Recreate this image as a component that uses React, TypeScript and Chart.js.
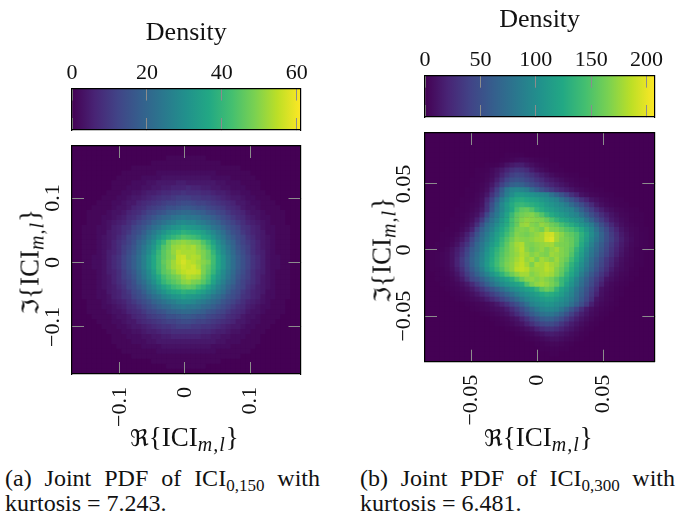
import React, { useEffect, useRef } from "react";
import { Chart, registerables } from "chart.js";

Chart.register(...registerables);

const GRID = 46;
const SERIF = "'Liberation Serif','DejaVu Serif',serif";

// Each row: first number = first non-zero column, then the densities.
const densityA: number[][] = [
  [],
  [],
  [19, 1, 1, 1, 1, 1, 1, 1, 1],
  [16, 1, 1, 1, 1, 1, 1, 1, 1, 1, 1, 1, 1, 1, 1],
  [12, 1, 1, 1, 1, 1, 1, 1, 1, 1, 1, 1, 1, 1, 1, 1, 1, 1, 1, 1, 1, 1, 1],
  [10, 1, 1, 1, 1, 1, 1, 1, 2, 2, 2, 2, 2, 2, 2, 2, 2, 2, 2, 2, 1, 1, 1, 1, 1, 1, 1],
  [9, 1, 1, 1, 1, 1, 2, 2, 2, 2, 3, 3, 3, 3, 3, 3, 3, 3, 3, 3, 2, 2, 2, 2, 1, 1, 1, 1, 1],
  [8, 1, 1, 1, 1, 2, 2, 2, 3, 3, 4, 4, 4, 4, 5, 5, 4, 4, 4, 4, 4, 4, 3, 3, 2, 2, 2, 1, 1, 1, 1],
  [8, 1, 1, 1, 2, 2, 2, 3, 3, 4, 4, 5, 5, 6, 6, 6, 7, 6, 6, 5, 5, 4, 4, 3, 3, 2, 2, 2, 1, 1, 1],
  [7, 1, 1, 1, 2, 2, 3, 3, 4, 5, 5, 6, 7, 7, 8, 8, 9, 8, 8, 8, 7, 7, 6, 5, 5, 4, 3, 3, 2, 2, 1, 1, 1],
  [6, 1, 1, 1, 2, 2, 3, 4, 4, 5, 6, 7, 8, 9, 9, 10, 11, 11, 11, 10, 10, 9, 9, 8, 7, 6, 5, 4, 4, 3, 2, 2, 1, 1, 1],
  [5, 1, 1, 1, 2, 2, 3, 4, 4, 6, 7, 8, 9, 10, 11, 12, 12, 13, 14, 14, 13, 12, 12, 11, 10, 9, 8, 7, 6, 4, 4, 3, 2, 2, 1, 1, 1],
  [4, 1, 1, 1, 1, 2, 3, 3, 4, 6, 7, 8, 10, 11, 12, 13, 15, 15, 16, 17, 17, 16, 15, 15, 13, 12, 11, 10, 8, 7, 6, 4, 3, 3, 2, 1, 1, 1, 1],
  [3, 1, 1, 1, 1, 2, 3, 3, 4, 6, 7, 8, 10, 12, 13, 15, 16, 18, 19, 20, 21, 21, 20, 19, 18, 16, 15, 13, 12, 10, 8, 7, 6, 4, 3, 3, 2, 1, 1, 1, 1],
  [3, 1, 1, 1, 2, 2, 3, 4, 5, 7, 8, 10, 12, 14, 16, 18, 20, 21, 23, 24, 25, 24, 24, 23, 21, 20, 18, 16, 14, 12, 10, 8, 7, 5, 4, 3, 2, 2, 1, 1, 1],
  [3, 1, 1, 1, 2, 3, 4, 5, 6, 8, 10, 12, 14, 16, 19, 21, 23, 25, 26, 28, 29, 28, 28, 26, 25, 23, 21, 19, 16, 14, 12, 10, 8, 6, 5, 4, 3, 2, 1, 1, 1],
  [2, 1, 1, 1, 2, 2, 3, 5, 6, 8, 9, 12, 14, 16, 19, 22, 24, 27, 29, 31, 32, 34, 33, 32, 31, 29, 27, 24, 22, 19, 16, 14, 12, 9, 8, 6, 5, 3, 2, 2, 1, 1, 1],
  [2, 1, 1, 1, 2, 2, 4, 5, 6, 8, 10, 13, 15, 18, 22, 25, 28, 31, 34, 36, 37, 39, 38, 37, 36, 34, 31, 28, 25, 22, 18, 15, 13, 10, 8, 6, 5, 4, 2, 2, 1, 1, 1],
  [2, 1, 1, 1, 2, 3, 4, 5, 7, 9, 12, 14, 17, 20, 24, 27, 31, 35, 38, 40, 42, 44, 43, 42, 40, 37, 35, 31, 27, 24, 20, 17, 14, 12, 9, 7, 5, 4, 3, 2, 1, 1, 1],
  [2, 1, 1, 1, 2, 3, 4, 6, 8, 10, 12, 15, 19, 22, 26, 30, 36, 40, 46, 49, 50, 51, 50, 49, 48, 44, 40, 35, 30, 26, 22, 19, 15, 12, 10, 8, 6, 4, 3, 2, 1, 1, 1],
  [2, 1, 1, 1, 2, 3, 4, 6, 8, 11, 13, 16, 20, 24, 28, 32, 38, 44, 47, 51, 52, 53, 52, 53, 50, 47, 43, 38, 32, 28, 24, 20, 16, 13, 11, 8, 6, 4, 3, 2, 1, 1, 1],
  [2, 1, 1, 1, 2, 3, 5, 6, 8, 11, 14, 17, 21, 25, 29, 34, 40, 45, 48, 51, 54, 53, 53, 53, 51, 49, 46, 40, 34, 29, 25, 21, 17, 14, 11, 8, 6, 5, 3, 2, 1, 1, 1],
  [2, 1, 1, 2, 2, 3, 5, 7, 9, 12, 15, 18, 22, 26, 31, 36, 41, 45, 48, 50, 55, 56, 53, 54, 53, 49, 46, 42, 36, 31, 26, 22, 18, 15, 12, 9, 7, 5, 3, 2, 2, 1, 1],
  [2, 1, 1, 2, 2, 3, 5, 7, 9, 12, 15, 18, 22, 26, 31, 36, 41, 46, 49, 52, 55, 57, 55, 54, 52, 50, 48, 42, 36, 31, 26, 22, 18, 15, 12, 9, 7, 5, 3, 2, 2, 1, 1],
  [2, 1, 1, 2, 2, 3, 5, 7, 9, 12, 15, 18, 22, 26, 31, 36, 41, 45, 49, 52, 54, 56, 55, 56, 53, 49, 46, 41, 36, 31, 26, 22, 18, 15, 12, 9, 7, 5, 3, 2, 2, 1, 1],
  [2, 1, 1, 1, 2, 3, 5, 6, 8, 11, 14, 17, 21, 25, 29, 34, 40, 45, 47, 50, 53, 55, 56, 56, 55, 49, 45, 40, 34, 29, 25, 21, 17, 14, 11, 8, 6, 5, 3, 2, 1, 1, 1],
  [2, 1, 1, 1, 2, 3, 4, 6, 8, 11, 13, 16, 20, 24, 28, 32, 37, 42, 45, 47, 49, 52, 54, 53, 52, 47, 43, 37, 32, 28, 24, 20, 16, 13, 11, 8, 6, 4, 3, 2, 1, 1, 1],
  [2, 1, 1, 1, 2, 3, 4, 6, 8, 10, 12, 15, 19, 22, 26, 30, 35, 40, 43, 45, 47, 50, 51, 49, 48, 45, 41, 35, 30, 26, 22, 19, 15, 12, 10, 8, 6, 4, 3, 2, 1, 1, 1],
  [2, 1, 1, 1, 2, 3, 4, 5, 7, 9, 12, 14, 17, 20, 24, 27, 31, 35, 38, 41, 43, 45, 46, 45, 42, 39, 35, 31, 27, 24, 20, 17, 14, 12, 9, 7, 5, 4, 3, 2, 1, 1, 1],
  [2, 1, 1, 1, 2, 2, 4, 5, 6, 8, 10, 13, 15, 18, 22, 25, 28, 31, 34, 36, 37, 39, 38, 38, 36, 34, 31, 28, 25, 22, 18, 15, 13, 10, 8, 6, 5, 4, 2, 2, 1, 1, 1],
  [2, 1, 1, 1, 2, 2, 3, 5, 6, 8, 9, 12, 14, 16, 19, 22, 24, 27, 29, 31, 32, 34, 33, 32, 31, 29, 27, 24, 22, 19, 16, 14, 12, 9, 8, 6, 5, 3, 2, 2, 1, 1, 1],
  [3, 1, 1, 1, 2, 3, 4, 5, 6, 8, 10, 12, 14, 16, 19, 21, 23, 25, 26, 28, 29, 29, 28, 26, 25, 23, 21, 19, 16, 14, 12, 10, 8, 6, 5, 4, 3, 2, 1, 1, 1],
  [3, 1, 1, 1, 2, 2, 3, 4, 5, 7, 8, 10, 12, 14, 16, 18, 20, 21, 23, 24, 25, 24, 24, 23, 21, 20, 18, 16, 14, 12, 10, 8, 7, 5, 4, 3, 2, 2, 1, 1, 1],
  [3, 1, 1, 1, 1, 2, 3, 3, 4, 6, 7, 8, 10, 12, 13, 15, 16, 18, 19, 20, 21, 21, 20, 19, 18, 16, 15, 13, 12, 10, 8, 7, 6, 4, 3, 3, 2, 1, 1, 1, 1],
  [4, 1, 1, 1, 1, 2, 3, 3, 4, 6, 7, 8, 10, 11, 12, 13, 15, 15, 16, 17, 17, 16, 15, 15, 13, 12, 11, 10, 8, 7, 6, 4, 3, 3, 2, 1, 1, 1, 1],
  [5, 1, 1, 1, 2, 2, 3, 4, 4, 6, 7, 8, 9, 10, 11, 12, 12, 13, 14, 14, 13, 12, 12, 11, 10, 9, 8, 7, 6, 4, 4, 3, 2, 2, 1, 1, 1],
  [6, 1, 1, 1, 2, 2, 3, 4, 4, 5, 6, 7, 8, 9, 9, 10, 11, 11, 11, 10, 10, 9, 9, 8, 7, 6, 5, 4, 4, 3, 2, 2, 1, 1, 1],
  [7, 1, 1, 1, 2, 2, 3, 3, 4, 5, 5, 6, 7, 7, 8, 8, 8, 8, 8, 8, 7, 7, 6, 5, 5, 4, 3, 3, 2, 2, 1, 1, 1],
  [8, 1, 1, 1, 2, 2, 2, 3, 3, 4, 4, 5, 5, 6, 6, 6, 6, 6, 6, 5, 5, 4, 4, 3, 3, 2, 2, 2, 1, 1, 1],
  [8, 1, 1, 1, 1, 2, 2, 2, 3, 3, 4, 4, 4, 4, 4, 4, 4, 4, 4, 4, 4, 4, 3, 3, 2, 2, 2, 1, 1, 1, 1],
  [9, 1, 1, 1, 1, 1, 2, 2, 2, 2, 3, 3, 3, 3, 3, 3, 3, 3, 3, 3, 2, 2, 2, 2, 1, 1, 1, 1, 1],
  [10, 1, 1, 1, 1, 1, 1, 1, 2, 2, 2, 2, 2, 2, 2, 2, 2, 2, 2, 2, 1, 1, 1, 1, 1, 1, 1],
  [12, 1, 1, 1, 1, 1, 1, 1, 1, 1, 1, 1, 1, 1, 1, 1, 1, 1, 1, 1, 1, 1, 1],
  [16, 1, 1, 1, 1, 1, 1, 1, 1, 1, 1, 1, 1, 1, 1],
  [19, 1, 1, 1, 1, 1, 1, 1, 1],
];

const densityB: number[][] = [
  [],
  [],
  [],
  [],
  [16, 1, 1, 1, 1],
  [15, 1, 2, 3, 5, 6, 5, 3, 2, 1, 1],
  [12, 1, 1, 2, 5, 10, 14, 17, 17, 12, 8, 5, 3, 2, 1, 1],
  [10, 1, 1, 2, 5, 9, 14, 21, 28, 32, 30, 25, 16, 10, 7, 4, 2, 1, 1],
  [10, 1, 2, 3, 6, 11, 20, 30, 38, 42, 40, 35, 29, 22, 16, 11, 7, 4, 3, 2, 1, 1],
  [9, 1, 1, 2, 4, 8, 17, 29, 41, 50, 53, 50, 44, 38, 31, 25, 18, 14, 10, 7, 4, 3, 2, 1, 1],
  [9, 1, 2, 3, 6, 13, 25, 40, 53, 63, 67, 64, 56, 48, 41, 34, 27, 21, 16, 12, 8, 5, 3, 2, 1, 1],
  [8, 1, 1, 2, 4, 8, 20, 38, 60, 82, 93, 96, 93, 88, 74, 62, 52, 43, 35, 27, 21, 16, 11, 7, 5, 3, 2, 1, 1],
  [8, 1, 1, 3, 6, 13, 30, 45, 68, 88, 100, 112, 112, 108, 104, 100, 96, 92, 78, 65, 53, 41, 29, 20, 10, 7, 4, 3, 2, 1, 1],
  [7, 1, 1, 2, 4, 8, 22, 40, 62, 85, 102, 118, 126, 128, 124, 120, 116, 110, 104, 98, 92, 78, 66, 54, 42, 30, 21, 12, 8, 5, 3, 2, 1, 1],
  [7, 1, 2, 3, 5, 10, 28, 50, 72, 95, 112, 126, 135, 138, 134, 130, 126, 120, 112, 106, 100, 94, 85, 72, 60, 48, 36, 25, 14, 8, 5, 3, 2, 1, 1],
  [6, 1, 1, 2, 4, 7, 14, 30, 55, 78, 95, 112, 125, 145, 155, 158, 150, 135, 128, 120, 114, 108, 102, 97, 92, 78, 64, 50, 38, 26, 17, 10, 7, 4, 3, 2, 1, 1],
  [6, 1, 2, 3, 6, 10, 22, 44, 68, 84, 102, 120, 138, 155, 162, 166, 168, 160, 150, 135, 126, 118, 112, 105, 98, 92, 78, 64, 50, 38, 27, 18, 11, 7, 4, 3, 2, 1, 1],
  [5, 1, 1, 2, 4, 8, 18, 35, 58, 78, 92, 110, 125, 145, 158, 168, 173, 171, 168, 166, 158, 147, 135, 126, 120, 112, 105, 97, 80, 65, 50, 37, 25, 15, 10, 6, 4, 2, 1, 1],
  [5, 1, 2, 3, 6, 13, 28, 50, 72, 85, 100, 115, 128, 145, 158, 173, 176, 168, 165, 173, 168, 161, 155, 145, 135, 128, 118, 108, 98, 85, 66, 50, 36, 24, 14, 8, 5, 3, 2, 1],
  [4, 1, 1, 2, 5, 10, 20, 42, 62, 78, 92, 108, 122, 135, 150, 165, 168, 166, 173, 168, 163, 178, 168, 166, 158, 150, 145, 135, 125, 110, 96, 78, 60, 46, 32, 21, 12, 7, 4, 3, 1, 1],
  [3, 1, 1, 2, 4, 9, 18, 33, 52, 70, 85, 100, 115, 128, 142, 155, 168, 166, 163, 168, 173, 178, 190, 192, 178, 170, 160, 155, 147, 132, 118, 100, 84, 66, 50, 36, 25, 15, 9, 5, 3, 2, 1],
  [3, 1, 2, 3, 7, 13, 24, 42, 60, 75, 90, 105, 120, 135, 150, 162, 172, 170, 168, 171, 176, 178, 192, 196, 178, 168, 163, 158, 147, 130, 114, 96, 80, 65, 50, 38, 27, 17, 10, 6, 3, 2, 1],
  [2, 1, 1, 2, 5, 10, 20, 32, 50, 68, 82, 97, 112, 125, 140, 155, 168, 178, 182, 168, 166, 170, 173, 176, 178, 168, 166, 164, 158, 145, 126, 108, 90, 74, 60, 46, 34, 24, 15, 9, 5, 3, 2, 1],
  [1, 1, 1, 2, 4, 9, 16, 26, 40, 58, 70, 85, 103, 120, 133, 147, 158, 168, 176, 184, 170, 163, 168, 173, 166, 173, 178, 168, 163, 154, 135, 120, 100, 84, 70, 56, 43, 31, 21, 13, 7, 4, 2, 1, 1],
  [1, 1, 2, 3, 5, 10, 18, 30, 44, 62, 75, 90, 107, 122, 137, 150, 160, 168, 174, 182, 176, 168, 173, 168, 166, 176, 173, 168, 163, 150, 130, 114, 96, 80, 66, 52, 40, 29, 19, 11, 6, 4, 2, 1],
  [1, 1, 2, 3, 5, 10, 20, 34, 48, 65, 78, 93, 110, 126, 140, 153, 163, 170, 178, 185, 173, 178, 166, 178, 173, 168, 176, 166, 158, 142, 126, 108, 90, 74, 60, 46, 33, 23, 14, 8, 5, 3, 2, 1],
  [1, 1, 2, 3, 5, 10, 20, 33, 47, 64, 78, 94, 112, 128, 142, 155, 166, 172, 182, 187, 178, 166, 180, 178, 184, 178, 173, 163, 150, 133, 118, 102, 86, 70, 56, 43, 31, 21, 12, 7, 4, 3, 1, 1],
  [1, 1, 1, 2, 4, 8, 16, 28, 42, 58, 72, 88, 106, 122, 136, 150, 163, 172, 185, 188, 184, 173, 176, 178, 185, 180, 168, 158, 145, 128, 112, 96, 80, 65, 51, 38, 27, 16, 9, 6, 4, 2, 1],
  [2, 1, 2, 3, 6, 12, 22, 36, 50, 64, 78, 92, 106, 120, 133, 148, 160, 170, 178, 178, 168, 173, 178, 180, 176, 166, 154, 135, 122, 106, 88, 72, 57, 44, 32, 21, 11, 7, 4, 3, 1, 1],
  [2, 1, 1, 2, 4, 8, 15, 27, 42, 50, 62, 75, 88, 100, 110, 120, 130, 146, 160, 170, 173, 168, 173, 168, 163, 152, 138, 128, 112, 94, 78, 63, 49, 36, 25, 12, 8, 5, 3, 2, 1],
  [3, 1, 2, 3, 5, 8, 14, 24, 36, 48, 62, 75, 88, 98, 106, 113, 120, 128, 150, 165, 172, 176, 172, 165, 156, 138, 120, 105, 90, 74, 59, 45, 32, 19, 8, 5, 3, 2, 1],
  [4, 1, 2, 3, 5, 8, 14, 22, 32, 42, 53, 63, 74, 85, 95, 103, 110, 118, 124, 136, 152, 160, 154, 135, 120, 110, 96, 80, 66, 52, 38, 25, 10, 6, 4, 2, 1],
  [5, 1, 2, 3, 5, 8, 13, 20, 28, 37, 46, 56, 66, 76, 88, 97, 104, 110, 116, 125, 130, 128, 122, 113, 102, 92, 76, 62, 48, 34, 20, 9, 5, 3, 2, 1],
  [6, 1, 2, 3, 5, 7, 10, 16, 23, 31, 40, 50, 60, 70, 82, 93, 100, 106, 112, 116, 116, 110, 103, 95, 85, 72, 57, 43, 29, 11, 7, 4, 3, 1],
  [8, 1, 2, 3, 4, 6, 9, 14, 21, 30, 40, 50, 62, 76, 90, 97, 102, 106, 105, 100, 95, 89, 76, 62, 48, 34, 18, 8, 5, 3, 2, 1],
  [9, 1, 2, 3, 4, 6, 8, 10, 16, 25, 35, 46, 58, 70, 82, 90, 94, 94, 91, 80, 68, 54, 40, 27, 15, 8, 5, 3, 2, 1],
  [11, 1, 2, 3, 5, 7, 10, 17, 26, 36, 47, 58, 68, 76, 80, 80, 74, 64, 52, 39, 27, 17, 11, 6, 4, 2, 1],
  [13, 1, 2, 3, 5, 8, 12, 20, 30, 40, 50, 58, 62, 62, 56, 47, 36, 26, 17, 11, 7, 4, 2, 1],
  [14, 1, 2, 3, 5, 8, 11, 19, 28, 36, 42, 46, 46, 40, 32, 23, 16, 11, 7, 4, 2, 1],
  [16, 1, 2, 3, 5, 8, 12, 19, 25, 29, 30, 26, 20, 15, 11, 7, 4, 2, 1],
  [18, 1, 2, 3, 5, 8, 11, 15, 16, 14, 12, 9, 6, 4, 2, 1],
  [20, 1, 2, 3, 5, 7, 9, 9, 7, 5, 4, 2, 1],
  [22, 1, 2, 3, 4, 4, 3, 2, 1],
  [23, 1, 1, 2, 2, 1, 1],
  [25, 1, 1],
];

const xRangeA = [-0.1736, 0.1775];
const yRangeA = [-0.173, 0.1808];
const ticksA = [-0.1, 0, 0.1];

const xRangeB = [-0.0854, 0.0888];
const yRangeB = [-0.0845, 0.0885];
const ticksB = [-0.05, 0, 0.05];

const colorTicksA = [0, 20, 40, 60];
const colorMaxA = 61;
const colorTicksB = [0, 50, 100, 150, 200];
const colorMaxB = 207;

const viridis = [
  [68, 1, 84], [72, 36, 117], [65, 68, 135], [53, 95, 141], [42, 120, 142],
  [33, 145, 140], [34, 168, 132], [68, 191, 112], [122, 209, 81], [189, 223, 38], [253, 231, 37],
];

function colorAt(f: number): string {
  const t = Math.max(0, Math.min(1, f)) * (viridis.length - 1);
  const i = Math.min(viridis.length - 2, Math.floor(t));
  const k = t - i;
  const c = viridis[i].map((v, j) => Math.round(v + (viridis[i + 1][j] - v) * k));
  return `rgb(${c[0]},${c[1]},${c[2]})`;
}

const fmt = (v: number) => (v === 0 ? "0" : v < 0 ? `\u2212${Math.abs(v)}` : `${v}`);
const tickFont = { family: "'Liberation Serif'", size: 22 };
const TICK_GREY = "#8c8c8c";

function edgeGrid(len: number, z = 1) {
  return { display: true, drawOnChartArea: false, drawTicks: true, tickLength: -len, color: TICK_GREY, tickColor: TICK_GREY, tickWidth: 1, lineWidth: 1, z };
}
const edgeBorder = { display: true, color: "#000", width: 1.2, z: 2 };

const fixH = (h: number) => (s: any) => { s.height = h; s.paddingLeft = s.paddingRight = s.paddingTop = s.paddingBottom = 0; };
const fixW = (w: number) => (s: any) => { s.width = w; s.paddingLeft = s.paddingRight = s.paddingTop = s.paddingBottom = 0; };

const plotBackground = {
  id: "plotBackground",
  beforeDatasetsDraw(chart: any) {
    const a = chart.chartArea;
    chart.ctx.save();
    chart.ctx.fillStyle = colorAt(0);
    chart.ctx.fillRect(a.left, a.top, a.right - a.left, a.bottom - a.top);
    chart.ctx.restore();
  },
};

function makeHeat(
  canvas: HTMLCanvasElement,
  rows: number[][],
  xr: number[],
  yr: number[],
  ticks: number[],
  maxV: number,
  m: { l: number; r: number; t: number; b: number },
  pad: { x: number; y: number },
) {
  const bw = (xr[1] - xr[0]) / GRID;
  const bh = (yr[1] - yr[0]) / GRID;
  const pts: { x: number; y: number }[] = [];
  const cols: string[] = [];
  for (let r = 0; r < GRID; r++) {
    const row = rows[r] || [];
    const start = row[0] ?? 0;
    for (let c = 0; c < GRID; c++) {
      const v = c >= start && c - start + 1 < row.length ? row[c - start + 1] : 0;
      pts.push({ x: xr[0] + (c + 0.5) * bw, y: yr[1] - (r + 0.5) * bh });
      cols.push(colorAt(v / maxV));
    }
  }
  const setTicks = (s: any) => { s.ticks = ticks.map((value) => ({ value })); };
  return new Chart(canvas, {
    type: "scatter",
    plugins: [plotBackground],
    data: { datasets: [{ data: pts, pointStyle: "rect", pointRadius: 4, pointBorderWidth: 0, pointBackgroundColor: cols, showLine: false }] as any },
    options: {
      responsive: false, animation: false, events: [],
      layout: { padding: 0, autoPadding: false },
      plugins: { legend: { display: false }, tooltip: { enabled: false } },
      scales: {
        x: { type: "linear", position: "bottom", min: xr[0], max: xr[1], afterBuildTicks: setTicks, afterFit: fixH(m.b), grid: edgeGrid(12), border: edgeBorder,
          ticks: { z: 3, autoSkip: false, minRotation: 90, maxRotation: 90, padding: pad.x, font: tickFont, color: "#111", callback: (v: any) => fmt(v) } },
        x2: { type: "linear", position: "top", min: xr[0], max: xr[1], afterBuildTicks: setTicks, afterFit: fixH(m.t), grid: edgeGrid(12), border: edgeBorder, ticks: { display: false } },
        y: { type: "linear", position: "left", min: yr[0], max: yr[1], afterBuildTicks: setTicks, afterFit: fixW(m.l), grid: edgeGrid(12), border: edgeBorder,
          ticks: { z: 3, autoSkip: false, minRotation: 90, maxRotation: 90, crossAlign: "center", padding: pad.y, font: tickFont, color: "#111", callback: (v: any) => fmt(v) } },
        y2: { type: "linear", position: "right", min: yr[0], max: yr[1], afterBuildTicks: setTicks, afterFit: fixW(m.r), grid: edgeGrid(12), border: edgeBorder, ticks: { display: false } },
      } as any,
    },
  });
}

function makeBar(
  canvas: HTMLCanvasElement,
  ticks: number[],
  maxV: number,
  m: { l: number; r: number; t: number; b: number },
  pad: number,
) {
  const setTicks = (s: any) => { s.ticks = ticks.map((value) => ({ value })); };
  const gradient = (ctx: any) => {
    const a = ctx.chart.chartArea;
    if (!a) return "#440154";
    const g = ctx.chart.ctx.createLinearGradient(a.left, 0, a.right, 0);
    viridis.forEach((_, i) => g.addColorStop(i / (viridis.length - 1), colorAt(i / (viridis.length - 1))));
    return g;
  };
  return new Chart(canvas, {
    type: "bar",
    data: { labels: ["Density"], datasets: [{ data: [[0, maxV]], backgroundColor: gradient, borderWidth: 0, barPercentage: 1, categoryPercentage: 1 }] as any },
    options: {
      indexAxis: "y", responsive: false, animation: false, events: [],
      layout: { padding: 0, autoPadding: false },
      plugins: { legend: { display: false }, tooltip: { enabled: false } },
      scales: {
        x: { type: "linear", position: "top", min: 0, max: maxV, afterBuildTicks: setTicks, afterFit: fixH(m.t), grid: edgeGrid(12), border: edgeBorder,
          title: { display: true, text: "Density", color: "#111", font: { family: "'Liberation Serif'", size: 26 }, padding: { top: 0, bottom: 0 } },
          ticks: { z: 3, autoSkip: false, maxRotation: 0, padding: pad, font: tickFont, color: "#111", callback: (v: any) => fmt(v) } },
        x2: { type: "linear", position: "bottom", min: 0, max: maxV, afterBuildTicks: setTicks, afterFit: fixH(m.b), grid: edgeGrid(12), border: edgeBorder, ticks: { display: false } },
        y: { type: "category", position: "left", afterFit: fixW(m.l), grid: { display: false }, border: edgeBorder, ticks: { display: false } },
        y2: { type: "linear", position: "right", min: 0, max: 1, afterFit: fixW(m.r), grid: { display: false }, border: edgeBorder, ticks: { display: false } },
      } as any,
    },
  });
}

const abs = (l: number, t: number, extra: React.CSSProperties = {}): React.CSSProperties => ({ position: "absolute", left: l, top: t, whiteSpace: "nowrap", fontFamily: SERIF, color: "#111", ...extra });
const subStyle: React.CSSProperties = { fontSize: 17, position: "relative", top: 5, lineHeight: 0 };

function AxisMath({ sym }: { sym: string }) {
  return (
    <span>
      <span style={{ fontFamily: "'DejaVu Serif','DejaVu Sans',serif", fontSize: 23 }}>{sym}</span>
      {"{ICI"}
      <span style={{ ...subStyle, fontSize: 20, letterSpacing: 1 }}><i>m,l</i></span>
      {"}"}
    </span>
  );
}

function Caption({ left, tag, sub, kurt }: { left: number; tag: string; sub: string; kurt: string }) {
  return (
    <div style={{ position: "absolute", left, top: 466, width: 315, fontFamily: SERIF, fontSize: 24, lineHeight: "25px", color: "#111" }}>
      <div style={{ textAlign: "justify", textAlignLast: "justify" }}>
        {`(${tag}) Joint PDF of ICI`}<span style={subStyle}>{sub}</span>{" with"}
      </div>
      <div>{`kurtosis = ${kurt}.`}</div>
    </div>
  );
}

export default function App() {
  const heatA = useRef<HTMLCanvasElement>(null);
  const heatB = useRef<HTMLCanvasElement>(null);
  const barA = useRef<HTMLCanvasElement>(null);
  const barB = useRef<HTMLCanvasElement>(null);

  useEffect(() => {
    const charts = [
      makeHeat(heatA.current!, densityA, xRangeA, yRangeA, ticksA, colorMaxA, { l: 72, r: 39.5, t: 6, b: 76 }, { x: 25, y: 11 }),
      makeHeat(heatB.current!, densityB, xRangeB, yRangeB, ticksB, colorMaxB, { l: 78, r: 39.7, t: 8, b: 88.3 }, { x: 25, y: 7 }),
      makeBar(barA.current!, colorTicksA, colorMaxA, { l: 72, r: 39.5, t: 70.5, b: 5 }, 14),
      makeBar(barB.current!, colorTicksB, colorMaxB, { l: 78, r: 39.7, t: 70.7, b: 5 }, 14),
    ];
    return () => charts.forEach((c) => c.destroy());
  }, []);

  return (
    <div style={{ position: "absolute", left: 0, top: 0, width: 694, height: 519, background: "#fff", overflow: "hidden" }}>
      <canvas ref={barA} width={340} height={117} style={{ position: "absolute", left: 0, top: 18 }} />
      <canvas ref={barB} width={347} height={117} style={{ position: "absolute", left: 347, top: 5 }} />
      <canvas ref={heatA} width={340} height={310} style={{ position: "absolute", left: 0, top: 140 }} />
      <canvas ref={heatB} width={347} height={325} style={{ position: "absolute", left: 347, top: 125 }} />
      <div style={abs(130, 422, { fontSize: 27 })}><AxisMath sym={"\u211C"} /></div>
      <div style={abs(484, 422, { fontSize: 27 })}><AxisMath sym={"\u211C"} /></div>
      <div style={abs(30, 262, { fontSize: 27, transform: "translate(-50%,-50%) rotate(-90deg)" })}><AxisMath sym={"\u2111"} /></div>
      <div style={abs(382, 250, { fontSize: 27, transform: "translate(-50%,-50%) rotate(-90deg)" })}><AxisMath sym={"\u2111"} /></div>
      <Caption left={5} tag="a" sub="0,150" kurt="7.243" />
      <Caption left={360} tag="b" sub="0,300" kurt="6.481" />
    </div>
  );
}
